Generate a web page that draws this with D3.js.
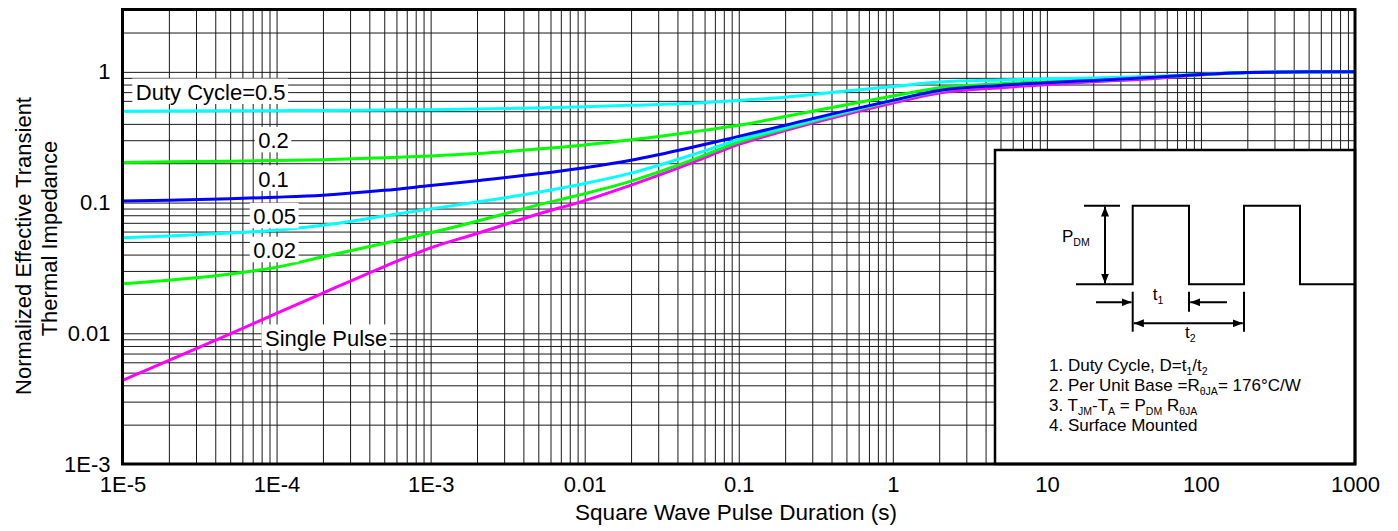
<!DOCTYPE html>
<html><head><meta charset="utf-8">
<script src="https://cdn.jsdelivr.net/npm/d3@7"></script>
<style>
html,body{margin:0;padding:0;background:#fff;}
svg{display:block;font-family:"Liberation Sans",Arial,Helvetica,sans-serif;}
</style></head>
<body><svg id="chart" width="1398" height="531"></svg>
<script>
// ---------------- data ----------------
const times = [1e-5,2e-5,5e-5,1e-4,2e-4,5e-4,1e-3,2e-3,5e-3,1e-2,2e-2,5e-2,0.1,0.2,0.5,1,2,5,10,20,50,100,200,500,1000];
const d050 = [0.500,0.501,0.503,0.505,0.507,0.511,0.514,0.519,0.530,0.540,0.555,0.575,0.603,0.640,0.715,0.772,0.835,0.868,0.885,0.898,0.925,0.955,0.985,1.0,1.0];
const d020 = [0.203,0.205,0.207,0.210,0.213,0.220,0.227,0.237,0.257,0.276,0.302,0.347,0.390,0.455,0.560,0.653,0.755,0.812,0.842,0.870,0.915,0.955,0.990,1.0,1.0];
const d010 = [0.103,0.104,0.107,0.110,0.114,0.124,0.135,0.147,0.166,0.185,0.211,0.265,0.321,0.390,0.505,0.605,0.720,0.788,0.825,0.860,0.910,0.955,0.990,1.0,1.0];
const d005 = [0.0537,0.0555,0.0585,0.0615,0.0670,0.0790,0.0895,0.101,0.120,0.140,0.168,0.232,0.303,0.375,0.495,0.603,0.720,0.790,0.828,0.860,0.910,0.955,0.990,1.0,1.0];
const d002 = [0.0240,0.0255,0.0284,0.0320,0.0385,0.0488,0.0587,0.0720,0.0960,0.117,0.146,0.212,0.290,0.366,0.488,0.598,0.715,0.790,0.828,0.860,0.910,0.955,0.990,1.0,1.0];
const dSingle = [0.00436,0.0062,0.0099,0.0142,0.0203,0.0324,0.0450,0.0580,0.0817,0.1035,0.136,0.202,0.279,0.355,0.473,0.577,0.689,0.757,0.800,0.840,0.890,0.950,0.990,1.0,1.0];

const seriesNames  = ["Single Pulse","0.02","0.05","0.2","0.5","0.1"];
const seriesValues = [dSingle, d002, d005, d020, d050, d010];
const seriesColors = ["#ff00ff","#00ff00","#00ffff","#00ff00","#00ffff","#0000ff"];

// curve labels: text, time, value (text start / baseline in data units)
const labelTexts = ["Duty Cycle=0.5","0.2","0.1","0.05","0.02","Single Pulse"];
const labelTimes = [1.22e-5, 7.6e-5, 7.6e-5, 7.06e-5, 7.06e-5, 8.41e-5];
const labelVals  = [0.609, 0.26, 0.132, 0.0682, 0.0375, 0.0080];

const xTickValues = [1e-5,1e-4,1e-3,0.01,0.1,1,10,100,1000];
const xTickLabels = ["1E-5","1E-4","1E-3","0.01","0.1","1","10","100","1000"];
const yTickValues = [1e-3,0.01,0.1,1];
const yTickLabels = ["1E-3","0.01","0.1","1"];
const gridMultipliers = [1,2,3,4,5,6,7,8,9];

const xTitle = "Square Wave Pulse Duration (s)";
const yTitle1 = "Normalized Effective Transient";
const yTitle2 = "Thermal Impedance";

// ---------------- chart ----------------
const svg = d3.select("#chart");
const L = 122.5, R = 1355, T = 9.5, B = 464;
const x = d3.scaleLog().domain([1e-5,1000]).range([L,R]);
const y = d3.scaleLog().domain([1e-3,3]).range([B,T]);

const xGrid = [];
xTickValues.forEach(d => gridMultipliers.forEach(m => { const v=d*m; if (v<=1000*1.0001) xGrid.push(v); }));
const yGrid = [];
yTickValues.forEach(d => gridMultipliers.forEach(m => { const v=d*m; if (v<3*0.999) yGrid.push(v); }));

// grid lines via axes
svg.append("g").attr("class","xgrid").attr("transform",`translate(0,${B})`)
  .call(d3.axisBottom(x).tickValues(xGrid).tickSize(-(B-T)).tickFormat(""))
  .call(g=>g.select(".domain").remove())
  .call(g=>g.selectAll("line").attr("stroke","#1a1a1a").attr("stroke-width",1));
svg.append("g").attr("class","ygrid").attr("transform",`translate(${L},0)`)
  .call(d3.axisLeft(y).tickValues(yGrid).tickSize(-(R-L)).tickFormat(""))
  .call(g=>g.select(".domain").remove())
  .call(g=>g.selectAll("line").attr("stroke","#1a1a1a").attr("stroke-width",1));

// curves
const line = d3.line().x(d=>x(d[0])).y(d=>y(d[1])).curve(d3.curveMonotoneX);
seriesValues.forEach((vals,i)=>{
  svg.append("path")
    .datum(times.map((t,j)=>[t,vals[j]]))
    .attr("fill","none").attr("stroke",seriesColors[i])
    .attr("stroke-width",3).attr("stroke-linejoin","round")
    .attr("d",line);
});

// curve labels with white background
labelTexts.forEach((txt,i)=>{
  const g = svg.append("g");
  const rect = g.append("rect").attr("fill","#fff");
  const t = g.append("text").attr("x",x(labelTimes[i])).attr("y",y(labelVals[i]))
    .attr("font-size",22).attr("fill","#000").text(txt);
  const bb = t.node().getBBox();
  rect.attr("x",bb.x-3.5).attr("y",bb.y-1.5).attr("width",bb.width+6).attr("height",bb.height+0.5);
});

// inset box
const inset = svg.append("g").attr("transform","translate(995,150)");
inset.append("rect").attr("x",0).attr("y",0).attr("width",R-995).attr("height",B-150)
  .attr("fill","#fff").attr("stroke","#000").attr("stroke-width",2.5);

const defs = svg.append("defs");
defs.append("marker").attr("id","ah").attr("viewBox","0 0 10 8")
  .attr("refX",10).attr("refY",4).attr("markerWidth",10).attr("markerHeight",8)
  .attr("markerUnits","userSpaceOnUse").attr("orient","auto-start-reverse")
  .append("path").attr("d","M0,0 L10,4 L0,8 Z").attr("fill","#000");

const st = s => s.attr("stroke","#000").attr("stroke-width",2).attr("fill","none");
// waveform
st(inset.append("path").attr("d","M81,134.3 H137.7 V55.7 H194 V134.3 H249 V55.7 H305 V134.3 H360"));
st(inset.append("path").attr("d","M89,55.7 H125"));
// PDM arrow
st(inset.append("line").attr("x1",110).attr("y1",56.5).attr("x2",110).attr("y2",133.5))
  .attr("marker-start","url(#ah)").attr("marker-end","url(#ah)");
// t1 arrows and ticks
st(inset.append("line").attr("x1",101).attr("y1",152.3).attr("x2",136.5).attr("y2",152.3)).attr("marker-end","url(#ah)");
st(inset.append("line").attr("x1",232).attr("y1",152.3).attr("x2",195.2).attr("y2",152.3)).attr("marker-end","url(#ah)");
st(inset.append("line").attr("x1",137.7).attr("y1",141.7).attr("x2",137.7).attr("y2",181.7));
st(inset.append("line").attr("x1",194).attr("y1",141.7).attr("x2",194).attr("y2",161.7));
st(inset.append("line").attr("x1",249).attr("y1",141.7).attr("x2",249).attr("y2",181.7));
// t2 arrow
st(inset.append("line").attr("x1",138.9).attr("y1",173.3).attr("x2",247.8).attr("y2",173.3))
  .attr("marker-start","url(#ah)").attr("marker-end","url(#ah)");

function richText(g, xx, yy, parts, size){
  const t = g.append("text").attr("x",xx).attr("y",yy).attr("font-size",size).attr("fill","#000");
  let shift = 0;
  parts.forEach(p=>{
    const isSub = p[1]===1;
    const target = isSub ? 4 : 0;
    t.append("tspan").attr("dy",target-shift).attr("font-size",isSub?size*0.62:size).text(p[0]);
    shift = target;
  });
  return t;
}
richText(inset, 67, 91.7, [["P",0],["DM",1]], 17);
richText(inset, 157.7, 150, [["t",0],["1",1]], 17);
richText(inset, 190, 187.5, [["t",0],["2",1]], 17);
richText(inset, 54, 221, [["1. Duty Cycle, D=t",0],["1",1],["/t",0],["2",1]], 17);
richText(inset, 54, 241, [["2. Per Unit Base =R",0],["θJA",1],["= 176°C/W",0]], 17);
richText(inset, 54, 261, [["3. T",0],["JM",1],["-T",0],["A",1],[" = P",0],["DM",1],[" R",0],["θJA",1]], 17);
richText(inset, 54, 281, [["4. Surface Mounted",0]], 17);

// frame
svg.append("rect").attr("x",L).attr("y",T).attr("width",R-L).attr("height",B-T)
  .attr("fill","none").attr("stroke","#000").attr("stroke-width",3);

// tick labels via axes
svg.append("g").attr("transform",`translate(0,${B})`)
  .call(d3.axisBottom(x).tickValues(xTickValues).tickSize(0).tickPadding(12)
        .tickFormat((d,i)=>xTickLabels[i]))
  .call(g=>g.select(".domain").remove())
  .call(g=>g.selectAll("text").attr("font-size",22).attr("fill","#000").attr("font-family",null));
svg.append("g").attr("transform",`translate(${L},0)`)
  .call(d3.axisLeft(y).tickValues(yTickValues).tickSize(0).tickPadding(12)
        .tickFormat((d,i)=>yTickLabels[i]))
  .call(g=>g.select(".domain").remove())
  .call(g=>g.selectAll("text").attr("font-size",22).attr("fill","#000").attr("font-family",null));

// titles
svg.append("text").attr("x",736).attr("y",519.5).attr("text-anchor","middle")
  .attr("font-size",22.5).attr("fill","#000").text(xTitle);
svg.append("text").attr("transform","translate(31,246) rotate(-90)").attr("text-anchor","middle")
  .attr("font-size",22).attr("fill","#000").text(yTitle1);
svg.append("text").attr("transform","translate(57,238.5) rotate(-90)").attr("text-anchor","middle")
  .attr("font-size",22).attr("fill","#000").text(yTitle2);
</script></body></html>
